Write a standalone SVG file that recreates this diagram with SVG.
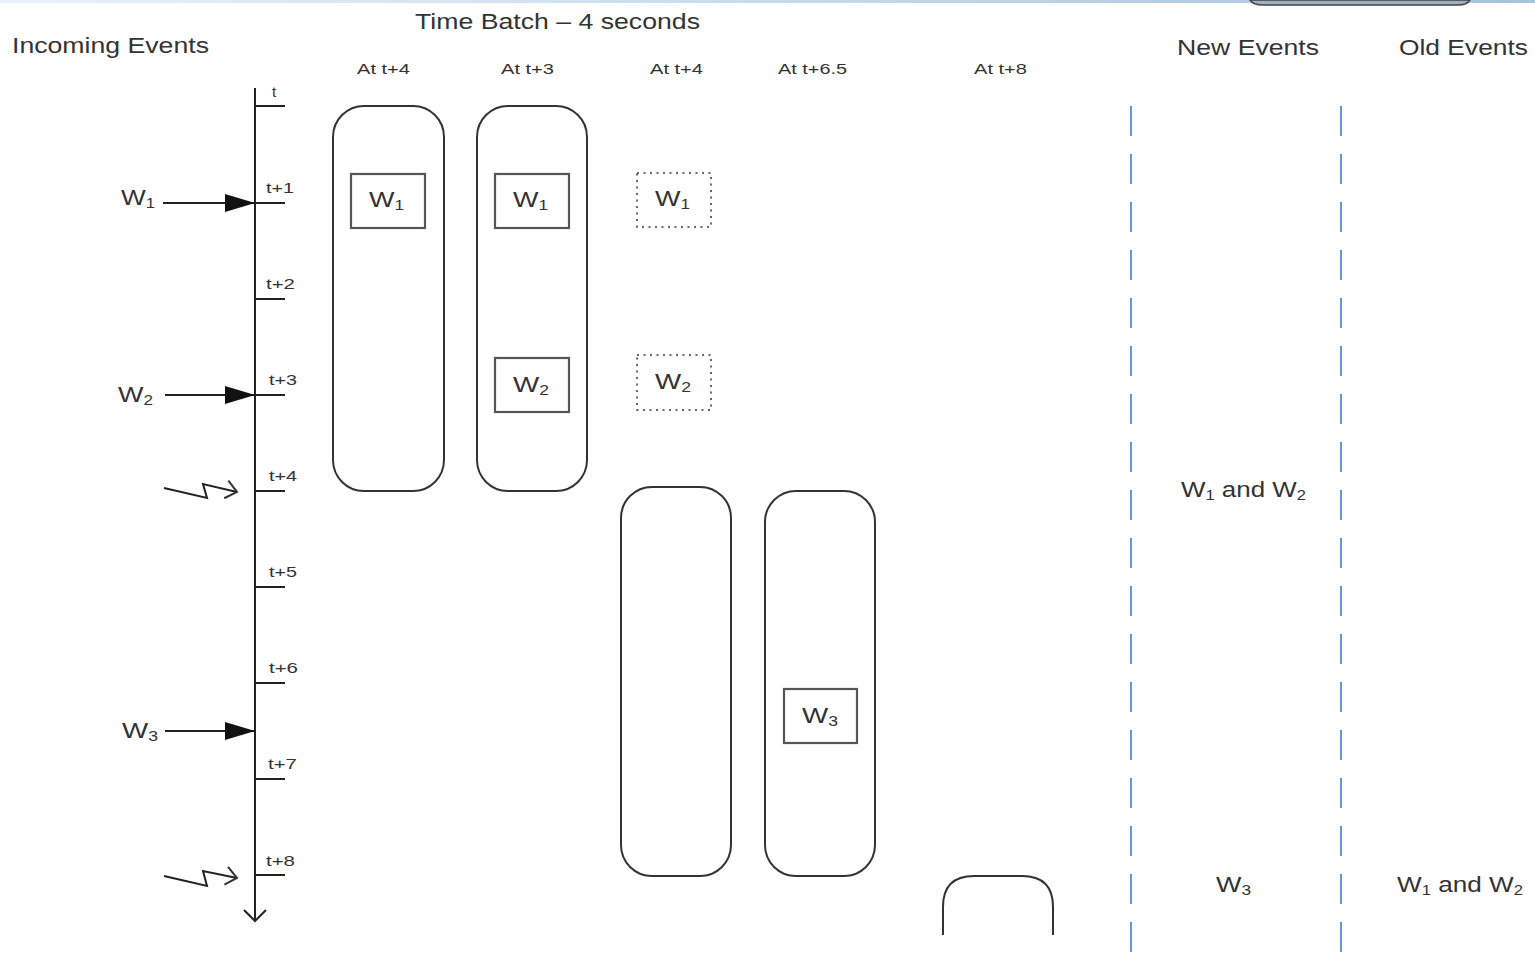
<svg xmlns="http://www.w3.org/2000/svg" width="1535" height="954" viewBox="0 0 1535 954">
<defs>
<linearGradient id="band" x1="0" x2="1" y1="0" y2="0">
<stop offset="0" stop-color="#e8f2fc"/>
<stop offset="1" stop-color="#a7c3da"/>
</linearGradient>
<marker id="tri" viewBox="0 0 30 18" refX="30" refY="9" markerWidth="30" markerHeight="18" markerUnits="userSpaceOnUse" orient="auto">
<path d="M0,0 L30,9 L0,18 Z" fill="#111"/>
</marker>
<marker id="open" viewBox="0 0 14 20" refX="12" refY="10" markerWidth="14" markerHeight="20" markerUnits="userSpaceOnUse" orient="auto">
<path d="M1,1 L12,10 L1,19" fill="none" stroke="#333" stroke-width="2"/>
</marker>
</defs>
<style>
text{font-family:"Liberation Sans",Arial,sans-serif;fill:#333;}
.h{font-size:22.5px;}
.at{font-size:15px;}
.tk{font-size:15px;}
.w{font-size:22px;}
.rr{fill:none;stroke:#333;stroke-width:2;}
.bx{fill:#fff;stroke:#555;stroke-width:2.2;}
.dot{fill:none;stroke:#666;stroke-width:2;stroke-dasharray:2 4.5;}
.ln{fill:none;stroke:#222;stroke-width:2;}
.dash{fill:none;stroke:#6b96d8;stroke-width:2;stroke-dasharray:30 18;}
</style>
<rect x="0" y="0" width="1535" height="954" fill="#fff"/>
<rect x="0" y="0" width="1535" height="3" fill="url(#band)"/>
<path d="M1250,0 Q1253,5 1263,5 H1458 Q1467,5 1470,0 Z" fill="#9eb0c0" stroke="#444" stroke-width="1.5"/>

<g id="headers">
<text class="h" x="12" y="53" textLength="197" lengthAdjust="spacingAndGlyphs">Incoming Events</text>
<text class="h" x="415" y="29" textLength="285" lengthAdjust="spacingAndGlyphs">Time Batch – 4 seconds</text>
<text class="h" x="1177" y="55" textLength="142" lengthAdjust="spacingAndGlyphs">New Events</text>
<text class="h" x="1399" y="55" textLength="129" lengthAdjust="spacingAndGlyphs">Old Events</text>
<text class="at" x="357" y="74" textLength="53" lengthAdjust="spacingAndGlyphs">At t+4</text>
<text class="at" x="501" y="74" textLength="53" lengthAdjust="spacingAndGlyphs">At t+3</text>
<text class="at" x="650" y="74" textLength="53" lengthAdjust="spacingAndGlyphs">At t+4</text>
<text class="at" x="778" y="74" textLength="69" lengthAdjust="spacingAndGlyphs">At t+6.5</text>
<text class="at" x="974" y="74" textLength="53" lengthAdjust="spacingAndGlyphs">At t+8</text>
</g>

<g id="timeline">
<line class="ln" x1="255" y1="88" x2="255" y2="921"/>
<path class="ln" d="M244,910 L255,921 L266,910"/>
<path class="ln" d="M255,106 H285 M255,203 H285 M255,299 H285 M255,395 H285 M255,491 H285 M255,587 H285 M255,683 H285 M255,779 H285 M255,875 H285"/>
<text class="tk" x="272" y="97">t</text>
<text class="tk" x="266" y="193" textLength="28" lengthAdjust="spacingAndGlyphs">t+1</text>
<text class="tk" x="266" y="289" textLength="29" lengthAdjust="spacingAndGlyphs">t+2</text>
<text class="tk" x="269" y="385" textLength="28" lengthAdjust="spacingAndGlyphs">t+3</text>
<text class="tk" x="269" y="481" textLength="28" lengthAdjust="spacingAndGlyphs">t+4</text>
<text class="tk" x="269" y="577" textLength="28" lengthAdjust="spacingAndGlyphs">t+5</text>
<text class="tk" x="269" y="673" textLength="29" lengthAdjust="spacingAndGlyphs">t+6</text>
<text class="tk" x="268" y="769" textLength="29" lengthAdjust="spacingAndGlyphs">t+7</text>
<text class="tk" x="266" y="866" textLength="29" lengthAdjust="spacingAndGlyphs">t+8</text>
</g>

<g id="connectors">
<line class="ln" x1="163" y1="203" x2="255" y2="203" marker-end="url(#tri)"/>
<line class="ln" x1="165" y1="395" x2="255" y2="395" marker-end="url(#tri)"/>
<line class="ln" x1="165" y1="731" x2="255" y2="731" marker-end="url(#tri)"/>
<polyline class="ln" points="164,488 207,498 203,484 237,492" marker-end="url(#open)"/>
<polyline class="ln" points="164,876 207,886 203,871 237,878" marker-end="url(#open)"/>
</g>

<g id="event-labels">
<text class="w" x="121" y="205" textLength="34" lengthAdjust="spacingAndGlyphs">W<tspan font-size="14" dy="3">1</tspan></text>
<text class="w" x="118" y="402" textLength="35" lengthAdjust="spacingAndGlyphs">W<tspan font-size="14" dy="3">2</tspan></text>
<text class="w" x="122" y="738" textLength="36" lengthAdjust="spacingAndGlyphs">W<tspan font-size="14" dy="3">3</tspan></text>
</g>

<g id="batch1">
<rect class="rr" x="333" y="106" width="111" height="385" rx="31"/>
<rect class="bx" x="351" y="174" width="74" height="54"/>
<text class="w" x="369" y="207" textLength="35" lengthAdjust="spacingAndGlyphs">W<tspan font-size="14" dy="3">1</tspan></text>
</g>

<g id="batch2">
<rect class="rr" x="477" y="106" width="110" height="385" rx="31"/>
<rect class="bx" x="495" y="174" width="74" height="54"/>
<text class="w" x="513" y="207" textLength="35" lengthAdjust="spacingAndGlyphs">W<tspan font-size="14" dy="3">1</tspan></text>
<rect class="bx" x="495" y="358" width="74" height="54"/>
<text class="w" x="513" y="392" textLength="36" lengthAdjust="spacingAndGlyphs">W<tspan font-size="14" dy="3">2</tspan></text>
</g>

<g id="expired">
<rect class="dot" x="637" y="173" width="74" height="54"/>
<text class="w" x="655" y="206" textLength="35" lengthAdjust="spacingAndGlyphs">W<tspan font-size="14" dy="3">1</tspan></text>
<rect class="dot" x="637" y="355" width="74" height="55"/>
<text class="w" x="655" y="389" textLength="36" lengthAdjust="spacingAndGlyphs">W<tspan font-size="14" dy="3">2</tspan></text>
</g>

<g id="batch3">
<rect class="rr" x="621" y="487" width="110" height="389" rx="31"/>
</g>

<g id="batch4">
<rect class="rr" x="765" y="491" width="110" height="385" rx="31"/>
<rect class="bx" x="784" y="689" width="73" height="54"/>
<text class="w" x="802" y="723" textLength="36" lengthAdjust="spacingAndGlyphs">W<tspan font-size="14" dy="3">3</tspan></text>
</g>

<g id="batch5">
<path class="rr" d="M943,935 V907 Q943,876 974,876 H1022 Q1053,876 1053,907 V935"/>
</g>

<g id="columns">
<line class="dash" x1="1131" y1="106" x2="1131" y2="954"/>
<line class="dash" x1="1341" y1="106" x2="1341" y2="954"/>
<text class="w" x="1181" y="497" textLength="125" lengthAdjust="spacingAndGlyphs">W<tspan font-size="14" dy="3">1</tspan><tspan dy="-3"> and W</tspan><tspan font-size="14" dy="3">2</tspan></text>
<text class="w" x="1216" y="892" textLength="35" lengthAdjust="spacingAndGlyphs">W<tspan font-size="14" dy="3">3</tspan></text>
<text class="w" x="1397" y="892" textLength="126" lengthAdjust="spacingAndGlyphs">W<tspan font-size="14" dy="3">1</tspan><tspan dy="-3"> and W</tspan><tspan font-size="14" dy="3">2</tspan></text>
</g>
</svg>
